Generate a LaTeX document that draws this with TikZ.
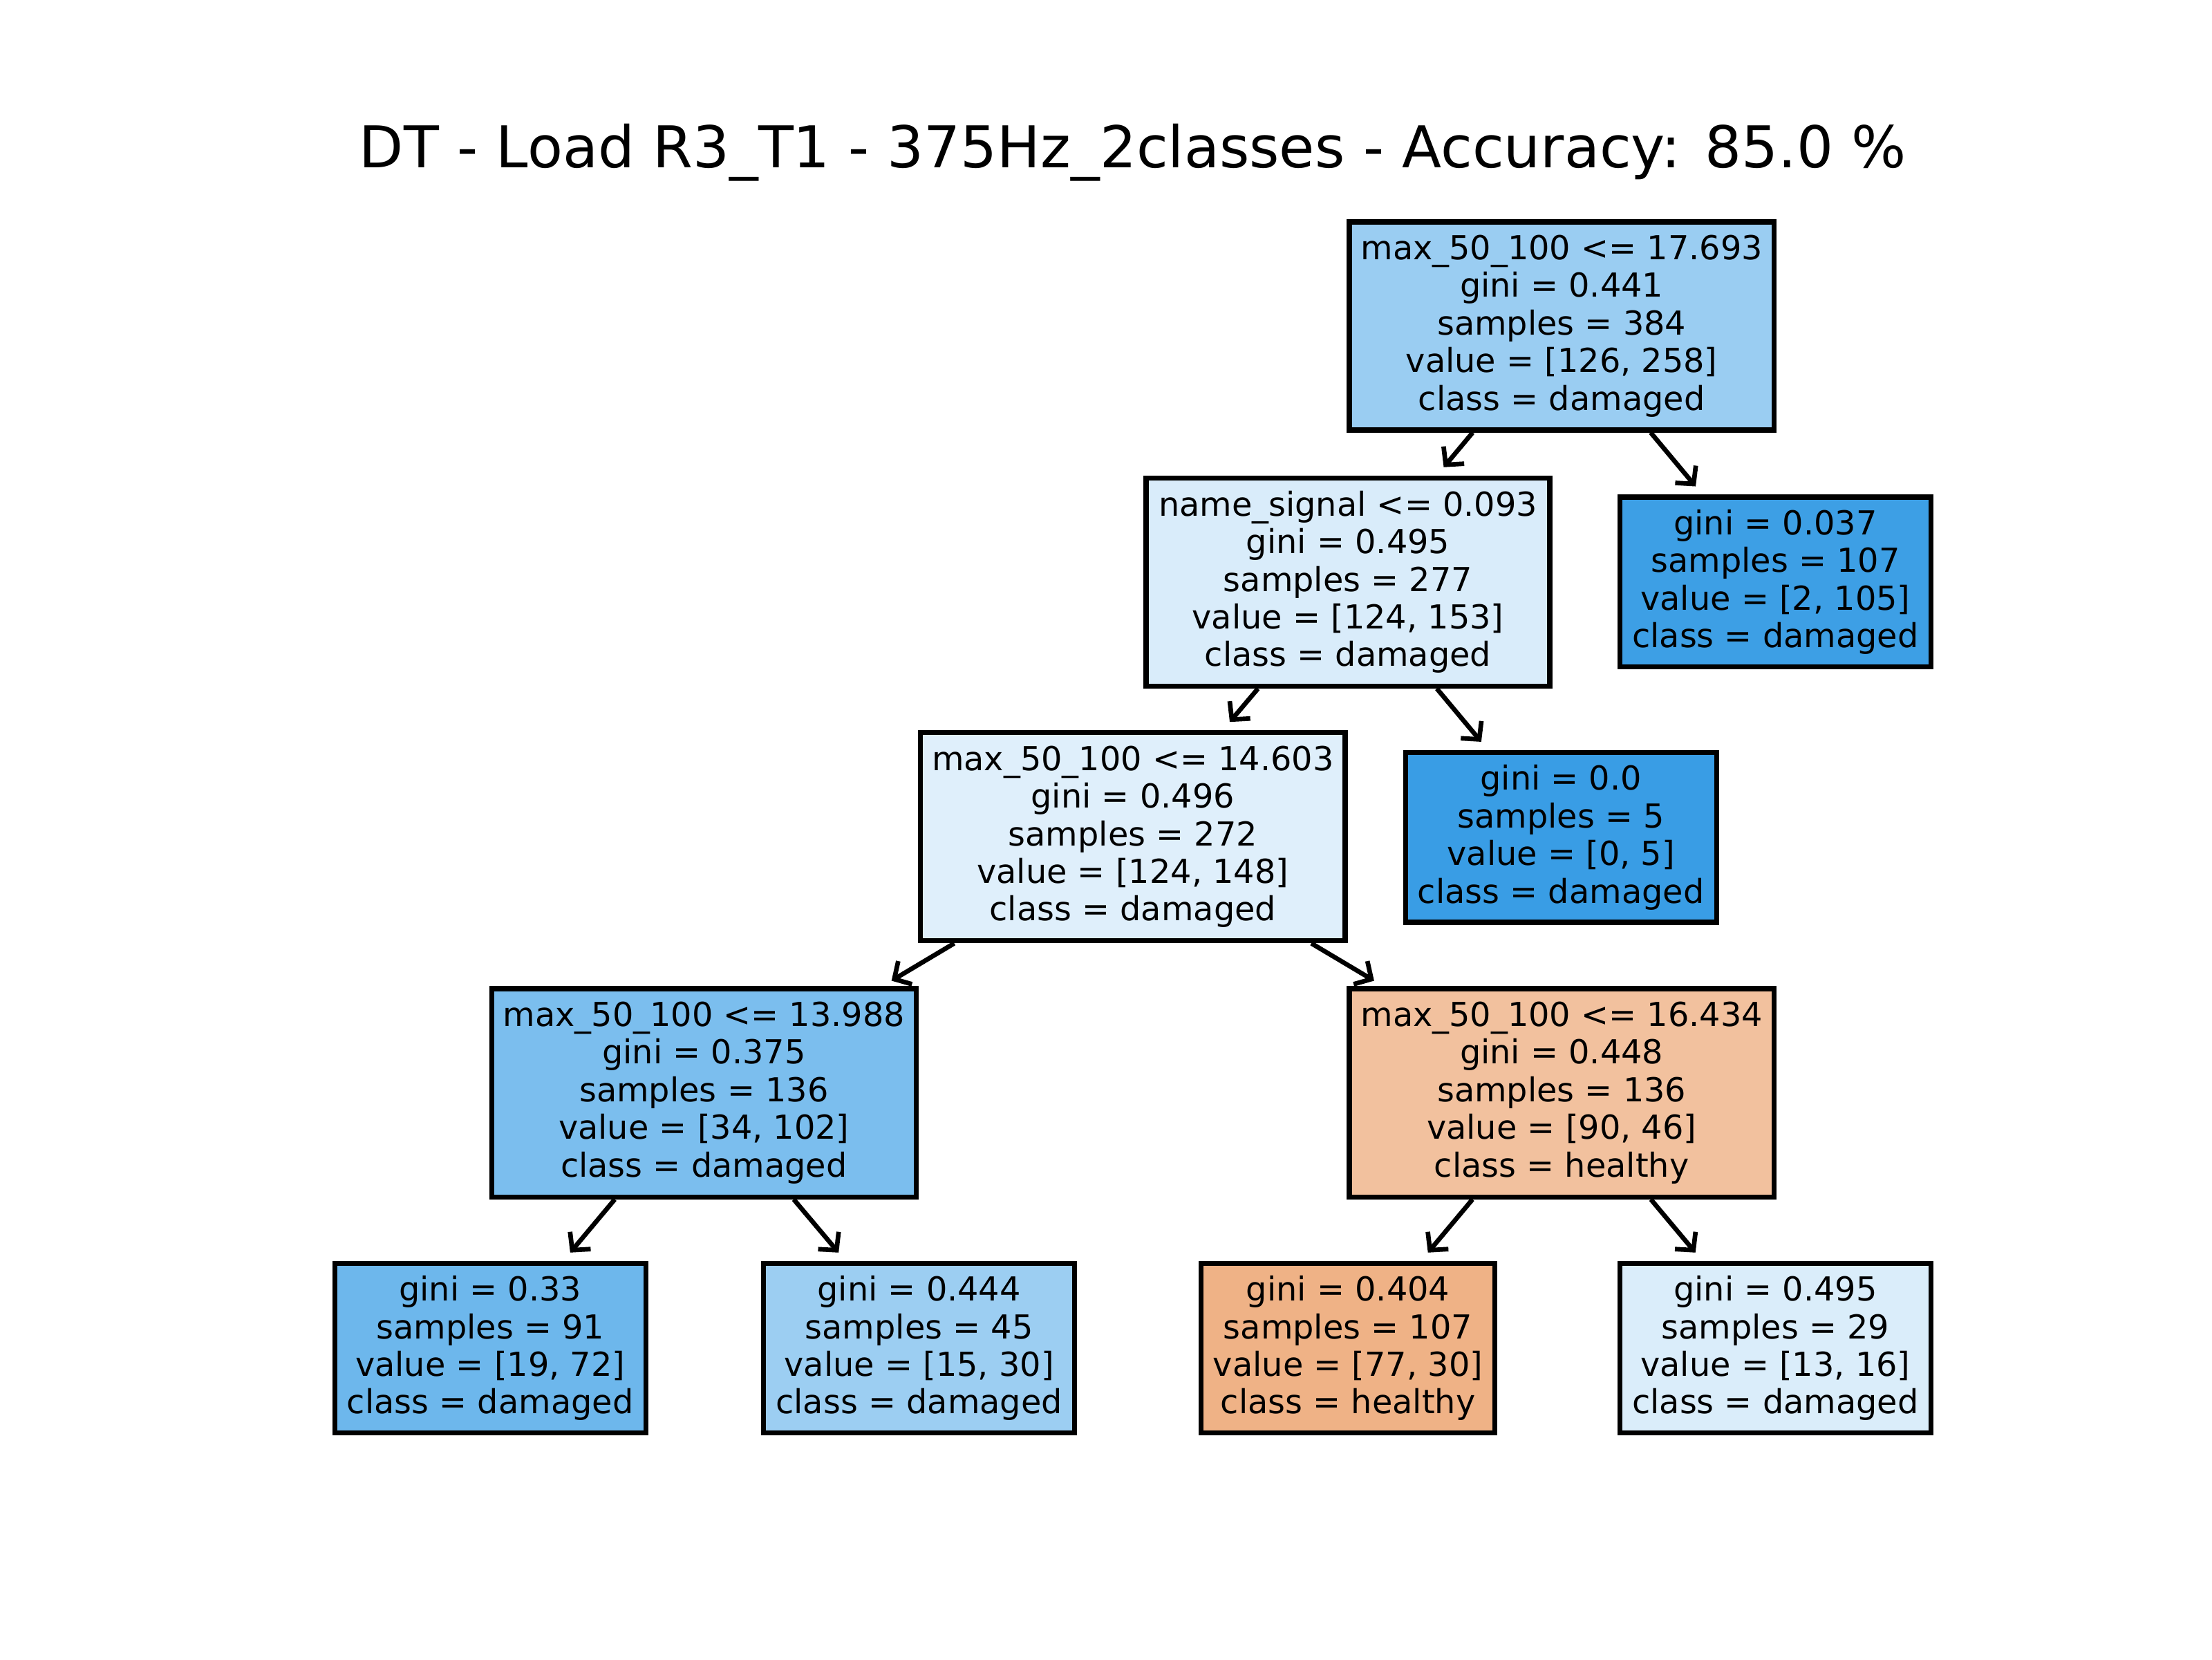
\documentclass[tikz,border=0pt]{standalone}
\usepackage{fontspec}
\setmainfont{DejaVu Sans}
\usetikzlibrary{arrows.meta}
\definecolor{dtblue}{RGB}{57,157,229}
\definecolor{dtorange}{RGB}{229,129,57}
\newcommand{\dtfont}{\fontsize{8.6}{9.8}\selectfont}
\tikzset{
  treebox/.style={draw=black, line width=1.3pt, align=center, font=\dtfont, inner sep=0pt},
  splitbox/.style={treebox, minimum width=110.6pt, minimum height=54.2pt},
  leafbox/.style={treebox, minimum width=81pt, minimum height=44.2pt},
  arr/.style={line width=1.2pt, -{Straight Barb[length=3.3pt,width=7pt,line width=1.2pt]}, shorten >=2.8pt}
}
\begin{document}
\begin{tikzpicture}[x=0.36735pt, y=-0.36735pt]
\useasboundingbox (0,0) rectangle (1568,1176);
\node[font=\fontsize{15}{17}\selectfont] (title) at (803,108) {DT - Load R3\_T1 - 375Hz\_2classes - Accuracy: 85.0 \%};

\node[splitbox, fill=dtblue!51.2!white] (root) at (1107,231)
  {max\_50\_100 <= 17.693\\gini = 0.441\\samples = 384\\value = [126, 258]\\class = damaged};
\node[splitbox, minimum width=105.1pt, fill=dtblue!19!white] (ns) at (955.5,412.5)
  {name\_signal <= 0.093\\gini = 0.495\\samples = 277\\value = [124, 153]\\class = damaged};
\node[leafbox, fill=dtblue!98.1!white] (l1) at (1258.5,412.5)
  {gini = 0.037\\samples = 107\\value = [2, 105]\\class = damaged};
\node[splitbox, fill=dtblue!16.2!white] (m1) at (803,593)
  {max\_50\_100 <= 14.603\\gini = 0.496\\samples = 272\\value = [124, 148]\\class = damaged};
\node[leafbox, fill=dtblue] (l2) at (1106.5,593.5)
  {gini = 0.0\\samples = 5\\value = [0, 5]\\class = damaged};
\node[splitbox, fill=dtblue!66.7!white] (m2) at (499,774.5)
  {max\_50\_100 <= 13.988\\gini = 0.375\\samples = 136\\value = [34, 102]\\class = damaged};
\node[splitbox, fill=dtorange!48.9!white] (m3) at (1107,774.5)
  {max\_50\_100 <= 16.434\\gini = 0.448\\samples = 136\\value = [90, 46]\\class = healthy};
\node[leafbox, fill=dtblue!73.6!white] (b1) at (347.5,955.5)
  {gini = 0.33\\samples = 91\\value = [19, 72]\\class = damaged};
\node[leafbox, fill=dtblue!50!white] (b2) at (651.5,955.5)
  {gini = 0.444\\samples = 45\\value = [15, 30]\\class = damaged};
\node[leafbox, minimum width=76.6pt, fill=dtorange!61!white] (b3) at (955.5,955.5)
  {gini = 0.404\\samples = 107\\value = [77, 30]\\class = healthy};
\node[leafbox, fill=dtblue!18.75!white] (b4) at (1258.5,955.5)
  {gini = 0.495\\samples = 29\\value = [13, 16]\\class = damaged};

\draw[arr] (root) -- (ns);
\draw[arr] (root) -- (l1);
\draw[arr] (ns) -- (m1);
\draw[arr] (ns) -- (l2);
\draw[arr] (m1) -- (m2);
\draw[arr] (m1) -- (m3);
\draw[arr] (m2) -- (b1);
\draw[arr] (m2) -- (b2);
\draw[arr] (m3) -- (b3);
\draw[arr] (m3) -- (b4);
\end{tikzpicture}
\end{document}
